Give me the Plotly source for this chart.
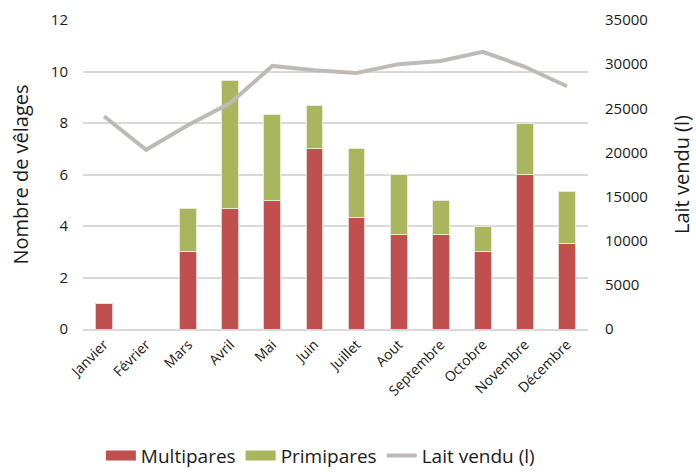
import plotly.graph_objects as go

mois = ["Janvier", "Février", "Mars", "Avril", "Mai", "Juin", "Juillet",
        "Aout", "Septembre", "Octobre", "Novembre", "Décembre"]
multipares = [1, 0, 3, 4.67, 5, 7, 4.33, 3.67, 3.67, 3, 6, 3.33]
primipares = [0, 0, 1.67, 5, 3.33, 1.67, 2.67, 2.33, 1.33, 1, 2, 2]
lait = [24100, 20300, 23100, 25600, 29800, 29300, 29000, 30000, 30350, 31400, 29700, 27500]

RED = "#C0504D"
GREEN = "#A9B65E"
GREY = "#BEBAB8"
FONT = "Open Sans"

fig = go.Figure()
fig.add_trace(go.Bar(x=mois, y=multipares, name="Multipares", showlegend=False,
                     marker=dict(color=RED, line=dict(color="#E8CFCF", width=1))))
fig.add_trace(go.Bar(x=mois, y=primipares, name="Primipares", showlegend=False,
                     marker=dict(color=GREEN, line=dict(color="#E6EBD4", width=1))))
fig.add_trace(go.Scatter(x=mois, y=lait, name="Lait vendu (l)", yaxis="y2",
                         mode="lines", line=dict(color=GREY, width=4), showlegend=False))
# legend entries (wide swatches like the original)
fig.add_trace(go.Scatter(x=[None], y=[None], name="Multipares", mode="lines",
                         line=dict(color=RED, width=18)))
fig.add_trace(go.Scatter(x=[None], y=[None], name="Primipares", mode="lines",
                         line=dict(color=GREEN, width=18)))
fig.add_trace(go.Scatter(x=[None], y=[None], name="Lait vendu (l)", mode="lines",
                         line=dict(color=GREY, width=4)))

fig.update_layout(
    width=696, height=472,
    barmode="stack", bargap=0.6,
    paper_bgcolor="white", plot_bgcolor="white",
    margin=dict(l=83, r=108, t=20, b=143, autoexpand=False),
    font=dict(family=FONT, color="#1a1a1a", size=15),
    xaxis=dict(tickangle=-45, showgrid=False, showline=True, linecolor="#D9D9D9",
               linewidth=2, ticks="", tickfont=dict(size=14), automargin=False),
    yaxis=dict(range=[0, 12], dtick=2, showgrid=True, gridcolor="#D9D9D9", gridwidth=2,
               zeroline=False, ticks="", ticklabelstandoff=14, automargin=False,
               title=dict(text="Nombre de vêlages", font=dict(size=20), standoff=16),
               tickfont=dict(size=15)),
    yaxis2=dict(range=[0, 35000], dtick=5000, overlaying="y", side="right",
                showgrid=False, zeroline=False, ticks="", tickformat="d",
                ticklabelstandoff=16, automargin=False,
                title=dict(text="Lait vendu (l)", font=dict(size=20), standoff=28),
                tickfont=dict(size=15)),
    legend=dict(orientation="h", x=0.47, xanchor="center",
                y=-0.41, yanchor="middle",
                font=dict(size=19), traceorder="normal", itemwidth=30,
                tracegroupgap=0),
)
fig.write_html("out.html", config={"displayModeBar": False},
               post_script="document.body.style.margin='0';document.body.style.overflow='hidden';")
